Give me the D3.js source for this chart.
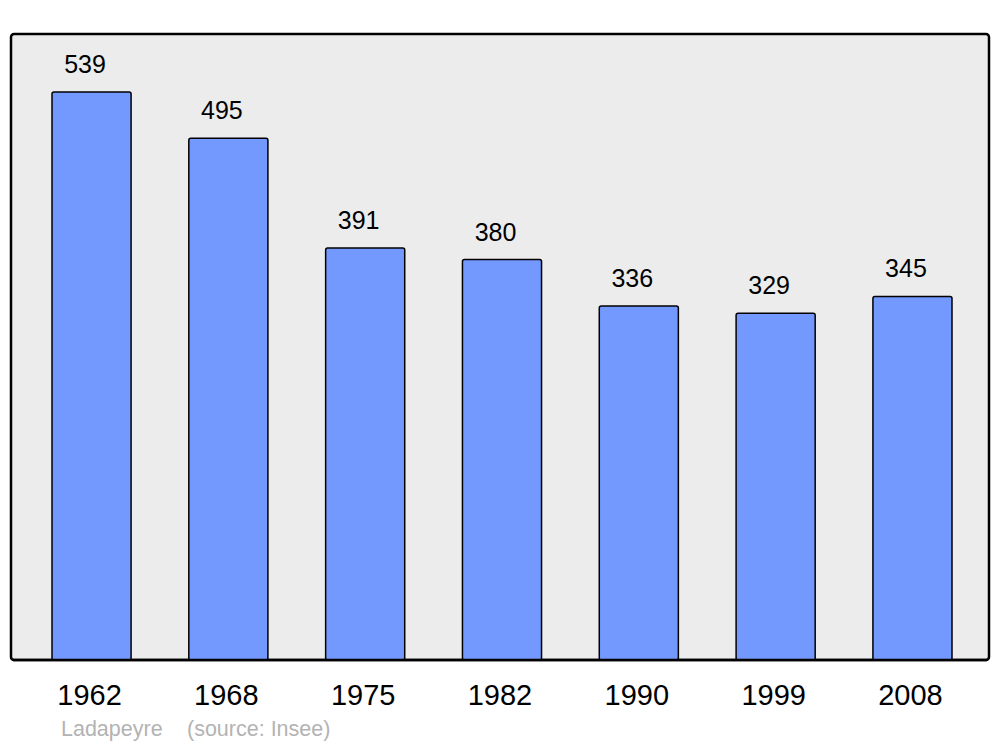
<!DOCTYPE html>
<html>
<head>
<meta charset="utf-8">
<script src="https://cdn.jsdelivr.net/npm/d3@7"></script>
<style>
  body { margin: 0; background: #fff; }
  svg { display: block; font-family: "Liberation Sans", Arial, sans-serif; }
</style>
</head>
<body>
<svg id="chart" width="1000" height="747"></svg>
<script>
const years = ["1962", "1968", "1975", "1982", "1990", "1999", "2008"];
const population = [539, 495, 391, 380, 336, 329, 345];
const commune = "Ladapeyre";
const source = "(source: Insee)";

const data = years.map((y, i) => ({ year: y, value: population[i] }));

let svg = d3.select("#chart"),
    panel = { left: 11, top: 34, right: 989, bottom: 660 };

let x = d3.scaleBand().domain(years).range([52, 952]).paddingInner(0.422).paddingOuter(0),
    y = d3.scaleLinear().domain([0, 594]).range([panel.bottom, panel.top]);

// grey panel
svg.append("rect")
    .attr("x", panel.left)
    .attr("y", panel.top)
    .attr("width", panel.right - panel.left)
    .attr("height", panel.bottom - panel.top)
    .attr("rx", 3)
    .style("fill", "#ececec")
    .style("stroke", "#000")
    .style("stroke-width", 2.5);

// bars
svg.selectAll(".bar")
    .data(data)
    .enter().append("rect")
    .attr("class", "bar")
    .attr("x", d => x(d.year))
    .attr("y", d => y(d.value))
    .attr("width", x.bandwidth())
    .attr("height", d => y(0) - y(d.value))
    .attr("rx", 2)
    .style("fill", "#7399ff")
    .style("stroke", "#000")
    .style("stroke-width", 1.5);

// redraw panel bottom so bars sit on it
svg.append("line")
    .attr("x1", panel.left + 2).attr("x2", panel.right - 2)
    .attr("y1", panel.bottom).attr("y2", panel.bottom)
    .style("stroke", "#000")
    .style("stroke-width", 2.5);

// value labels
svg.selectAll(".value")
    .data(data)
    .enter().append("text")
    .attr("class", "value")
    .attr("x", d => x(d.year) + x.bandwidth() / 2 - 6.5)
    .attr("y", d => y(d.value) - 19)
    .attr("text-anchor", "middle")
    .style("font-size", "25px")
    .style("fill", "#000")
    .text(d => d.value);

// year labels
svg.selectAll(".year")
    .data(data)
    .enter().append("text")
    .attr("class", "year")
    .attr("x", d => x(d.year) + x.bandwidth() / 2 - 2)
    .attr("y", 705)
    .attr("text-anchor", "middle")
    .style("font-size", "29px")
    .style("fill", "#000")
    .text(d => d.year);

// footer
svg.append("text")
    .attr("x", 61).attr("y", 736)
    .style("font-size", "21.5px")
    .style("fill", "#b3b3b3")
    .text(commune);
svg.append("text")
    .attr("x", 187).attr("y", 736)
    .style("font-size", "21.5px")
    .style("fill", "#b3b3b3")
    .text(source);
</script>
</body>
</html>
